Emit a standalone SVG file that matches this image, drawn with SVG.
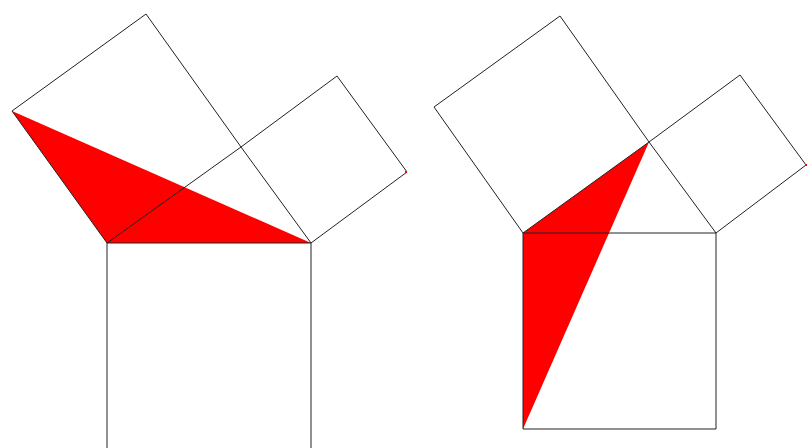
<svg xmlns="http://www.w3.org/2000/svg" width="811" height="448" viewBox="0 0 811 448">
<style>
.fill{fill:#ff0000;stroke:none}
.sq{fill:none;stroke:#222;stroke-width:1}
.dot{fill:#ff0000}
</style>
<rect width="811" height="448" fill="#fff"/>
<g id="left-figure">
<polygon id="left-red-triangle" class="fill" points="12,111 107,243 311,243"/>
<polygon id="left-square-leg-a" class="sq" points="107,243 241,147 146,14 12,111"/>
<polygon id="left-square-leg-b" class="sq" points="241,147 311,243 407,172 337,76"/>
<polygon id="left-square-hyp" class="sq" points="107,243 311,243 311,450 107,450"/>
<rect class="dot" x="405" y="171" width="2" height="2"/>
</g>
<g id="right-figure">
<polygon id="right-red-triangle" class="fill" points="523,233 649,142 523,429"/>
<polygon id="right-square-leg-a" class="sq" points="523,233 649,142 560,16 434,107"/>
<polygon id="right-square-leg-b" class="sq" points="649,142 716,233 806,165 740,75"/>
<polygon id="right-square-hyp" class="sq" points="523,233 716,233 716,429 523,429"/>
<rect class="dot" x="805" y="164" width="2" height="2"/>
</g>
</svg>
